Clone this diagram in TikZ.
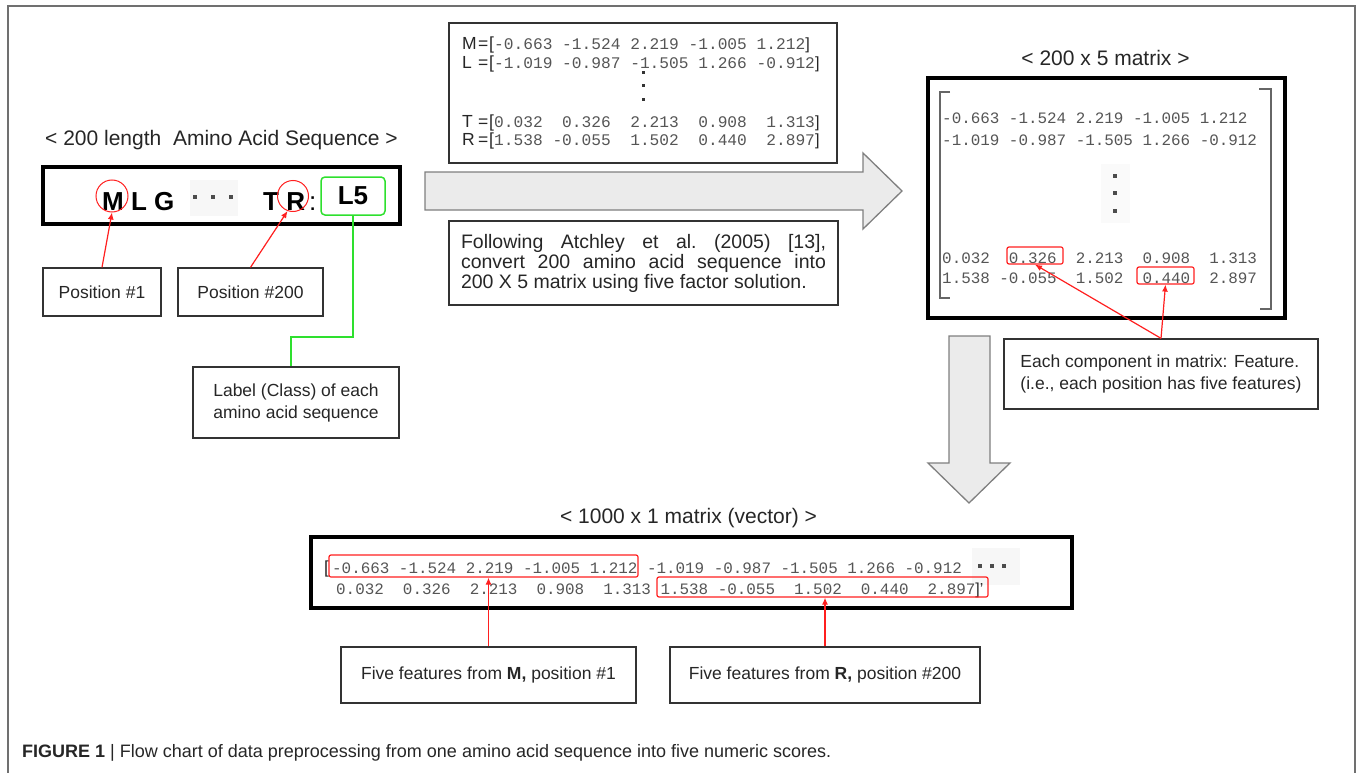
\documentclass[tikz,border=0pt]{standalone}
\usepackage{fontspec}
\setmainfont{Liberation Sans}
\setmonofont{Liberation Mono}
\usetikzlibrary{calc,arrows.meta}
\definecolor{numgray}{HTML}{555555}
\definecolor{framegray}{HTML}{707070}
\definecolor{arrowfill}{HTML}{EBEBEB}
\definecolor{arrowdraw}{HTML}{7F7F7F}
\definecolor{lgreen}{HTML}{2EE02E}
\definecolor{pred}{HTML}{FF1F1F}
\begin{document}
\begin{tikzpicture}[x=1pt,y=-1pt,
  thinbox/.style={draw=black!80,line width=1.3pt,inner sep=0pt},
  thickbox/.style={draw=black,line width=4pt,inner sep=0pt},
  redbox/.style={draw=pred,line width=1.2pt,rounded corners=2pt,inner sep=0pt},
  redcirc/.style={circle,draw=pred,line width=1pt,minimum size=32pt,inner sep=0pt},
  redarrow/.style={draw=pred,line width=1.2pt,-{Latex[length=7pt,width=6pt]}},
  greenline/.style={draw=lgreen,line width=1.5pt},
  numtxt/.style={font=\fontsize{15.9}{16}\ttfamily,text=numgray,inner sep=0pt,anchor=base west},
  sanslbl/.style={font=\fontsize{17.5}{18}\selectfont,text=black!85,inner sep=0pt,anchor=base west},
  boxtxt/.style={font=\fontsize{17.5}{22}\selectfont,text=black!85},
  titletxt/.style={font=\fontsize{21}{21}\selectfont,text=black!85,inner sep=0pt},
  seqletter/.style={font=\fontsize{26}{26}\selectfont\bfseries,inner sep=0pt,anchor=base west},
  blockarrow/.style={fill=arrowfill,draw=arrowdraw,line width=1.3pt,line join=miter},
  bracketline/.style={draw=black!60,line width=1.2pt},
  dotsq/.style={fill=black!70}
]
\useasboundingbox (0,0) rectangle (1360,773);
% frame
\draw[framegray,line width=2pt] (8,773) -- (8,6) -- (1355,6) -- (1355,773);

% ---------- amino acid sequence ----------
\node[titletxt] (seqtitle) at (221.5,140) {< 200 length\ \ Amino Acid Sequence >};
\node[thickbox,minimum width=357,minimum height=57] (seq) at (221.5,195.5) {};
\fill[black!3] (190,180) rectangle (238,216);
\foreach \x in {195,213,231} \fill[dotsq] (\x-2,195) rectangle (\x+2,199);
\node[seqletter] (mlg) at (102,210) {M L G};
\node[seqletter] (tr) at (263,210) {T R};
\node[font=\fontsize{26}{26}\selectfont,inner sep=0pt,anchor=base west] (colon) at (309,210) {:};
\node[draw=lgreen,line width=1.5pt,rounded corners=4pt,minimum width=64,minimum height=38,inner sep=0pt,font=\fontsize{26}{26}\selectfont\bfseries] (l5) at (353,196) {L5};
\node[redcirc] (circM) at (112,196) {};
\node[redcirc,minimum size=31pt] (circR) at (293,196) {};

\node[thinbox,boxtxt,minimum width=118,minimum height=48] (pos1) at (102,292) {Position \#1};
\node[thinbox,boxtxt,minimum width=145,minimum height=48] (pos200) at (250.5,292) {Position \#200};
\draw[redarrow] (pos1.north) -- (circM.south);
\draw[redarrow] (pos200.north) -- (circR.250);

\node[thinbox,boxtxt,align=left,minimum width=206,minimum height=71] (lab) at (296,402.5) {Label (Class) of each\\amino acid sequence};
\coordinate (gc) at (291,337);
\draw[greenline] (l5.south) |- (gc) -- (gc |- lab.north);

% ---------- top middle box ----------
\node[thinbox,minimum width=388,minimum height=140] (tbox) at (643,93) {};
\foreach \nm/\lt/\yy in {m/M/50,l/L/69,t/T/128,r/R/146}{
  \node[sanslbl] (\nm lab) at (462,\yy) {\lt};
  \node[sanslbl] (\nm eq) at (478,\yy) {=};
  \node[sanslbl] (\nm br) at (489,\yy) {[};
}
\node[numtxt,font=\fontsize{16.2}{16}\ttfamily] (mrow) at (494,50) {-0.663 -1.524 2.219 -1.005 1.212\textcolor{black!85}{\rmfamily ]}};
\node[numtxt,font=\fontsize{16.2}{16}\ttfamily] (lrow) at (494,69) {-1.019 -0.987 -1.505 1.266 -0.912\textcolor{black!85}{\rmfamily ]}};
\node[numtxt,font=\fontsize{16.2}{16}\ttfamily] (trow) at (494,128) {0.032\ \ 0.326\ \ 2.213\ \ 0.908\ \ 1.313\textcolor{black!85}{\rmfamily ]}};
\node[numtxt,font=\fontsize{16.2}{16}\ttfamily] (rrow) at (494,146) {1.538 -0.055\ \ 1.502\ \ 0.440\ \ 2.897\textcolor{black!85}{\rmfamily ]}};
\foreach \y in {73,86,100} \fill[black!80] (641.5,\y-1.5) rectangle ++(3,3);

% right block arrow
\draw[blockarrow] (425,172) -- (863,172) -- (863,153) -- (902,191) -- (863,229) -- (863,210) -- (425,210) -- cycle;

\node[thinbox,font=\fontsize{19.5}{20}\selectfont,text=black!85,text width=365pt,align=justify,minimum height=84,inner xsep=12pt] (fbox) at (643.5,263) {Following Atchley et al.\ (2005) [13],\linebreak convert 200 amino acid sequence into\linebreak 200 X 5 matrix using five factor solution.};

% ---------- 200 x 5 matrix ----------
\node[titletxt] (mtitle) at (1105.5,58) {< 200 x 5 matrix >};
\node[thickbox,minimum width=357,minimum height=240] (mbox) at (1106.5,198) {};
\draw[bracketline] (950,92) -- (940,92) -- (940,298) -- (950,298);
\draw[bracketline] (1259,89) -- (1271,89) -- (1271,309) -- (1260,309);
\node[numtxt] (r1) at (942,124) {-0.663 -1.524 2.219 -1.005 1.212};
\node[numtxt] (r2) at (942,146) {-1.019 -0.987 -1.505 1.266 -0.912};
\fill[black!2] (1101,164) rectangle (1130,223);
\foreach \y in {176,193,211} \fill[dotsq] (1113,\y-2) rectangle ++(4,4);
\node[numtxt] (r4) at (942,263) {0.032\ \ 0.326\ \ 2.213\ \ 0.908\ \ 1.313};
\node[numtxt] (r5) at (942,283) {1.538 -0.055\ \ 1.502\ \ 0.440\ \ 2.897};
\node[redbox,minimum width=56,minimum height=17] (rb1) at (1035,255.5) {};
\node[redbox,minimum width=57,minimum height=17] (rb2) at (1165.5,275.5) {};

\node[thinbox,boxtxt,align=left,minimum width=314,minimum height=70] (comp) at (1161,374) {Each component in matrix: Feature.\\(i.e., each position has five features)};
\draw[redarrow] (comp.north) -- (rb1.south);
\draw[redarrow] (comp.north) -- (rb2.south);

% down block arrow
\draw[blockarrow] (949,336) -- (990,336) -- (990,463) -- (1010,463) -- (969,503) -- (928,463) -- (949,463) -- cycle;

% ---------- vector ----------
\node[titletxt] (vtitle) at (688.5,518) {< 1000 x 1 matrix (vector) >};
\node[thickbox,minimum width=761,minimum height=71] (vbox) at (691.5,572.5) {};
\node[sanslbl] (vbr) at (324,573) {[};
\node[numtxt] (v1) at (332,573) {-0.663 -1.524 2.219 -1.005 1.212 -1.019 -0.987 -1.505 1.266 -0.912};
\fill[black!3] (972,548) rectangle (1020,585);
\foreach \x in {980,992,1004} \fill[dotsq] (\x-2,564) rectangle ++(4,4);
\node[numtxt] (v2) at (336,594) {0.032\ \ 0.326\ \ 2.213\ \ 0.908\ \ 1.313 1.538 -0.055\ \ 1.502\ \ 0.440\ \ 2.897\textcolor{black!85}{\rmfamily ]'}};
\node[redbox,minimum width=309,minimum height=22] (rv1) at (483.5,566) {};
\node[redbox,minimum width=331,minimum height=20] (rv2) at (822.5,587) {};

\node[thinbox,boxtxt,minimum width=295,minimum height=56] (fM) at (488.5,675) {Five features from \textbf{M,} position \#1};
\node[thinbox,boxtxt,minimum width=310,minimum height=56] (fR) at (825,675) {Five features from \textbf{R,} position \#200};
\draw[redarrow] (fM.north) -- (fM.north |- rv1.south);
\draw[redarrow] (fR.north) -- (fR.north |- rv2.south);

% ---------- caption ----------
\node[anchor=base west,inner sep=0pt,text=black!85,font=\fontsize{18}{18}\selectfont] (cap) at (22,757) {\textbf{FIGURE 1} | Flow chart of data preprocessing from one amino acid sequence into five numeric scores.};
\end{tikzpicture}
\end{document}
